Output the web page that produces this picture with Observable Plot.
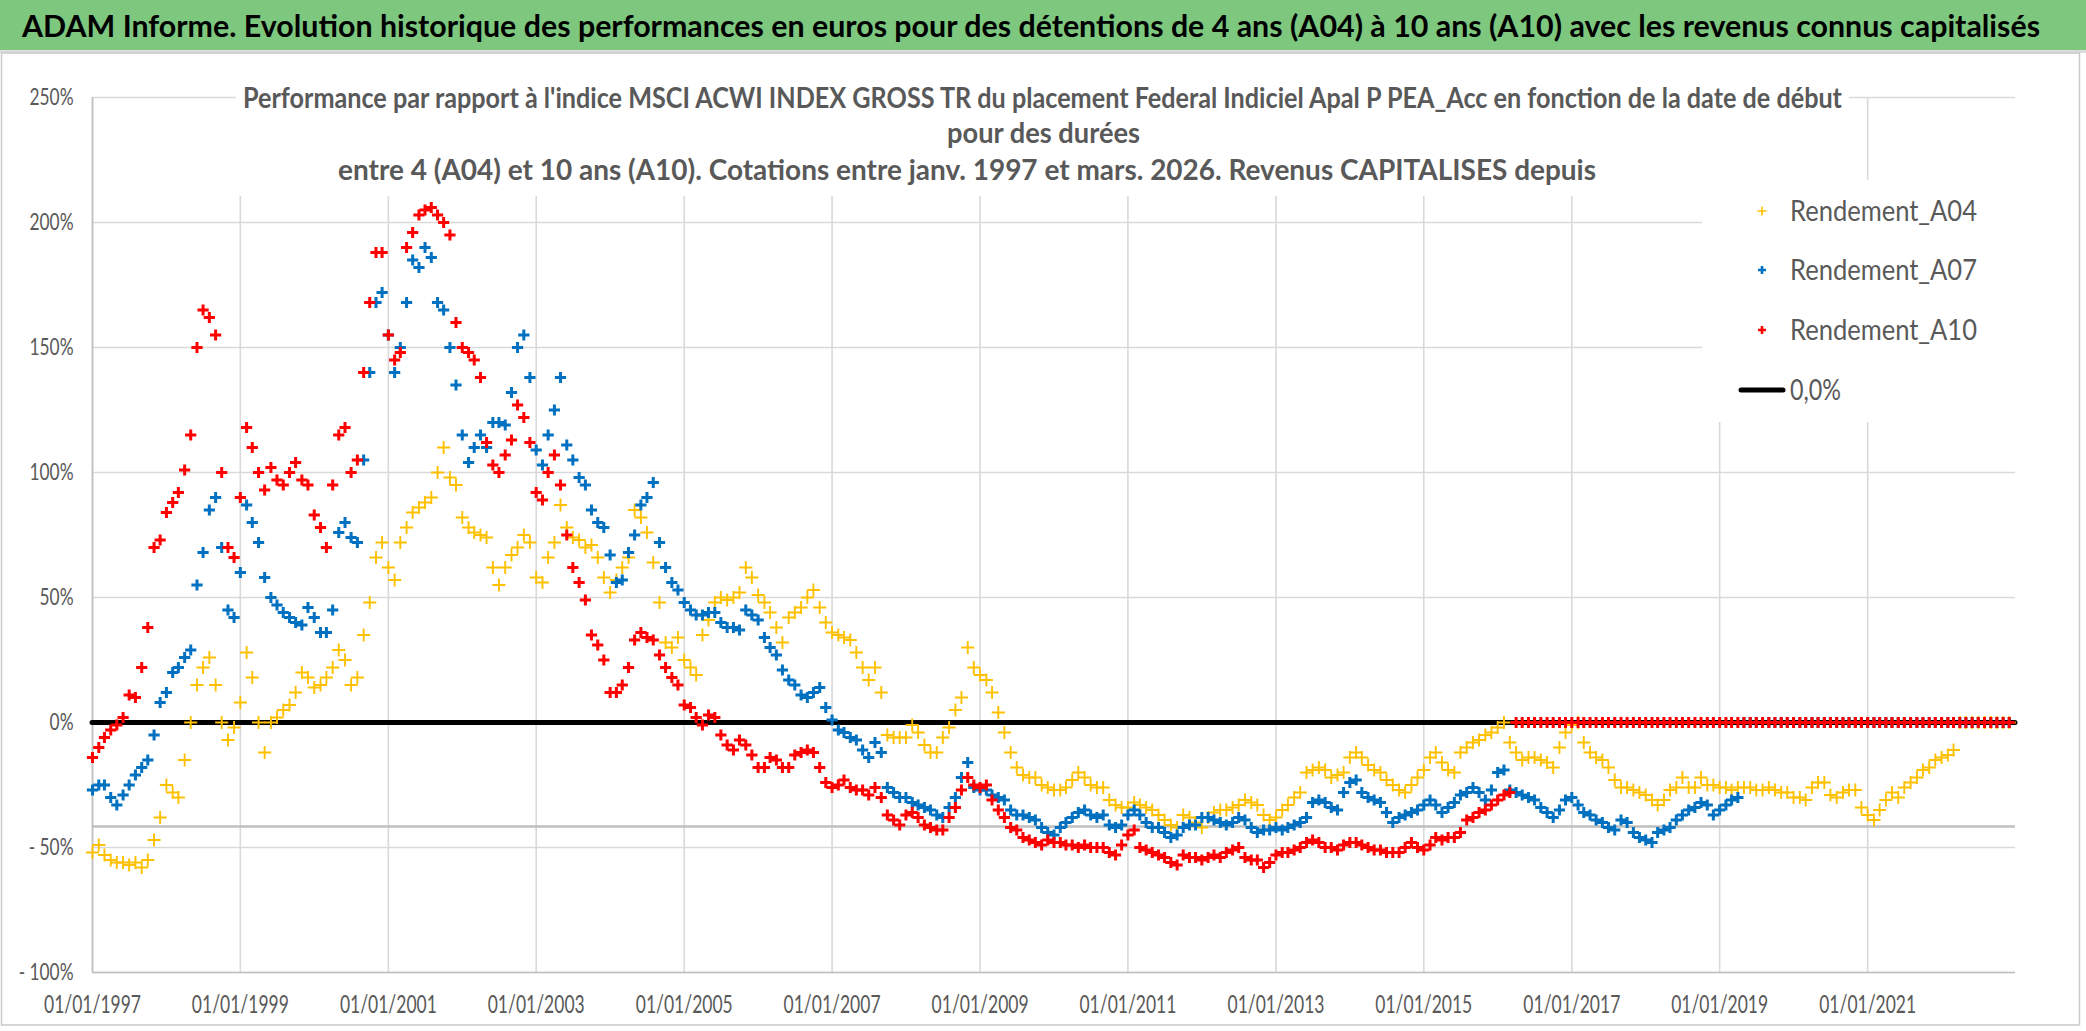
<!DOCTYPE html>
<html>
<head>
<meta charset="utf-8">
<script src="https://cdn.jsdelivr.net/npm/d3@7"></script>
<script src="https://cdn.jsdelivr.net/npm/@observablehq/plot@0.6"></script>
<style>
  html, body { margin: 0; padding: 0; background: #fff; }
  body { width: 2086px; height: 1031px; position: relative; overflow: hidden; font-family: Lato, "Open Sans", sans-serif; }
  #chart { position: absolute; left: 0; top: 52px; }
  #overlay { position: absolute; left: 0; top: 0; pointer-events: none; }
</style>
</head>
<body>
<div id="chart"></div>
<svg id="overlay" width="2086" height="1031"></svg>
<script>
// ---------- DATA (monthly readings, first day of each month, Jan 1997 -> Dec 2022) ----------
const firstYear = 1997;
const axisEndYear = 2023;
const xTickYears = [1997, 1999, 2001, 2003, 2005, 2007, 2009, 2011, 2013, 2015, 2017, 2019, 2021];
const yTicks = [-100, -50, 0, 50, 100, 150, 200, 250];
const refLevel = [-41.6];
const zeroLevel = [0];

const seriesNames = ["Rendement_A04", "Rendement_A07", "Rendement_A10"];
const seriesColors = ["#FFC000", "#0070C0", "#FF0000"];

const a04 = [
  -52,-49,-53,-55,-56,-56,-57,-56,-58,-55,-47,-38,   // 1997
  -25,-28,-30,-15,0,15,22,26,15,0,-7,-2,            // 1998
  8,28,18,0,-12,0,2,5,7,12,20,18,                   // 1999
  14,15,18,22,29,25,15,18,35,48,66,72,              // 2000
  62,57,72,78,84,86,88,90,100,110,98,95,            // 2001
  82,78,76,75,74,62,55,62,67,70,75,72,              // 2002
  58,56,66,72,87,78,74,73,70,71,66,58,              // 2003
  52,57,62,66,85,82,76,64,48,32,30,34,              // 2004
  25,22,19,35,41,48,50,49,50,52,62,58,              // 2005
  51,48,44,38,32,42,44,46,50,53,46,40,              // 2006
  36,35,34,33,28,22,17,22,12,-5,-6,-6,              // 2007
  -6,-1,-4,-9,-12,-12,-6,-2,5,10,30,22,             // 2008
  19,17,12,4,-4,-12,-18,-21,-22,-22,-25,-26,        // 2009
  -27,-27,-26,-23,-20,-22,-25,-26,-26,-31,-33,-34,  // 2010
  -34,-32,-33,-34,-35,-37,-39,-41,-42,-37,-38,-40,  // 2011
  -42,-38,-36,-35,-35,-34,-33,-31,-32,-33,-37,-39,  // 2012
  -38,-35,-33,-30,-28,-20,-19,-18,-19,-22,-21,-20,  // 2013
  -14,-12,-14,-17,-19,-20,-23,-25,-27,-28,-25,-22,  // 2014
  -19,-14,-12,-16,-19,-20,-12,-10,-8,-7,-5,-4,      // 2015
  -2,0,-8,-12,-15,-14,-14,-15,-16,-18,-10,-4,       // 2016
  -1,0,-8,-12,-14,-15,-18,-23,-26,-26,-27,-28,      // 2017
  -29,-31,-33,-31,-27,-26,-22,-26,-26,-22,-25,-25,  // 2018
  -26,-26,-27,-26,-26,-26,-27,-27,-26,-27,-28,-28,  // 2019
  -30,-30,-31,-26,-24,-24,-29,-30,-28,-27,-27,-34,  // 2020
  -37,-39,-35,-31,-28,-30,-26,-24,-22,-19,-18,-15,  // 2021
  -14,-13,-11,0,0,0,0,0,0,0,0,0                     // 2022
];

const a07 = [
  -27,-25,-25,-30,-33,-29,-25,-21,-18,-15,-5,8,     // 1997
  12,20,22,26,29,55,68,85,90,70,45,42,              // 1998
  60,87,80,72,58,50,47,44,42,40,39,46,              // 1999
  42,36,36,45,76,80,74,72,105,140,168,172,          // 2000
  155,140,150,168,185,182,190,186,168,165,150,135,  // 2001
  115,104,110,115,110,120,120,119,132,150,155,138,  // 2002
  109,103,115,125,138,111,105,98,95,85,80,78,       // 2003
  67,56,57,68,75,87,90,96,72,62,56,53,              // 2004
  48,45,43,43,44,44,40,38,38,37,45,43,              // 2005
  41,34,30,27,21,17,15,11,10,12,14,6,               // 2006
  1,-3,-4,-6,-7,-11,-14,-8,-12,-26,-28,-30,         // 2007
  -30,-32,-33,-34,-35,-37,-38,-34,-30,-22,-16,-26,  // 2008
  -27,-27,-29,-30,-31,-35,-37,-37,-38,-39,-42,-44,  // 2009
  -45,-42,-40,-38,-36,-35,-37,-38,-37,-41,-42,-41,  // 2010
  -37,-35,-37,-40,-42,-42,-44,-46,-45,-42,-41,-41,  // 2011
  -38,-38,-39,-40,-41,-40,-38,-39,-42,-44,-43,-43,  // 2012
  -42,-43,-42,-41,-40,-38,-32,-31,-32,-34,-35,-28,  // 2013
  -24,-23,-28,-30,-31,-32,-36,-40,-38,-37,-36,-35,  // 2014
  -33,-31,-33,-36,-34,-32,-29,-28,-26,-28,-31,-27,  // 2015
  -20,-19,-27,-28,-29,-30,-31,-34,-36,-38,-35,-31,  // 2016
  -30,-33,-36,-37,-39,-40,-42,-43,-39,-40,-44,-46,  // 2017
  -47,-48,-44,-43,-42,-39,-37,-35,-34,-32,-33,-37,  // 2018
  -35,-33,-31,-30,0,0,0,0,0,0,0,0,                  // 2019
  0,0,0,0,0,0,0,0,0,0,0,0,                          // 2020
  0,0,0,0,0,0,0,0,0,0,0,0,                          // 2021
  0,0,0,0,0,0,0,0,0,0,0,0                           // 2022
];

const a10 = [
  -14,-10,-6,-3,-1,2,11,10,22,38,70,73,             // 1997
  84,88,92,101,115,150,165,162,155,100,70,66,       // 1998
  90,118,110,100,93,102,97,95,100,104,97,95,        // 1999
  83,78,70,95,115,118,100,105,140,168,188,188,      // 2000
  155,145,148,190,196,203,205,206,203,200,195,160,  // 2001
  150,148,145,138,112,103,100,107,113,127,122,112,  // 2002
  92,89,100,107,95,75,62,56,49,35,31,25,            // 2003
  12,12,15,22,33,36,34,33,27,22,18,15,              // 2004
  7,6,2,-1,3,2,-5,-9,-11,-7,-9,-13,                 // 2005
  -18,-18,-14,-15,-18,-18,-13,-12,-11,-12,-18,-24,  // 2006
  -26,-25,-23,-26,-27,-27,-29,-26,-30,-37,-39,-41,  // 2007
  -37,-36,-38,-41,-42,-43,-43,-38,-34,-27,-22,-25,  // 2008
  -26,-25,-31,-35,-38,-42,-43,-46,-47,-48,-49,-47,  // 2009
  -48,-48,-49,-49,-50,-49,-50,-50,-50,-52,-53,-49,  // 2010
  -45,-43,-50,-51,-52,-53,-54,-56,-57,-53,-54,-54,  // 2011
  -55,-54,-53,-54,-52,-51,-50,-54,-55,-55,-58,-56,  // 2012
  -53,-52,-52,-51,-50,-48,-47,-48,-50,-50,-51,-49,  // 2013
  -48,-48,-49,-50,-51,-51,-52,-52,-52,-50,-48,-50,  // 2014
  -51,-49,-46,-47,-46,-46,-44,-39,-38,-36,-35,-33,  // 2015
  -31,-29,-28,0,0,0,0,0,0,0,0,0,                    // 2016
  0,0,0,0,0,0,0,0,0,0,0,0,                          // 2017
  0,0,0,0,0,0,0,0,0,0,0,0,                          // 2018
  0,0,0,0,0,0,0,0,0,0,0,0,                          // 2019
  0,0,0,0,0,0,0,0,0,0,0,0,                          // 2020
  0,0,0,0,0,0,0,0,0,0,0,0,                          // 2021
  0,0,0,0,0,0,0,0,0,0,0,0                           // 2022
];

const bannerTitle = "ADAM Informe. Evolution historique des performances en euros pour des détentions de 4 ans (A04) à 10 ans (A10) avec les revenus connus capitalisés";
const chartTitleLines = [
  "Performance par rapport à l'indice MSCI ACWI INDEX GROSS TR  du placement Federal Indiciel Apal P PEA_Acc en fonction de la date de début",
  "pour des durées",
  "entre 4 (A04) et 10 ans (A10). Cotations entre janv. 1997 et mars. 2026. Revenus CAPITALISES depuis"
];
const zeroLegend = "0,0%";

// ---------- BUILD ----------
const monthDate = i => new Date(Date.UTC(firstYear, i, 1));
const toRows = (vals, name) => vals.map((v, i) => ({ date: monthDate(i), value: v, series: name }));
const rows = [toRows(a04, seriesNames[0]), toRows(a07, seriesNames[1]), toRows(a10, seriesNames[2])];
const xTicks = xTickYears.map(y => new Date(Date.UTC(y, 0, 1)));
const pad = n => String(n).padStart(2, "0");
const fmtDate = d => `${pad(d.getUTCDate())}/${pad(d.getUTCMonth() + 1)}/${d.getUTCFullYear()}`;
const fmtPct = v => v < 0 ? `- ${-v}%` : `${v}%`;

const grid = "#d9d9d9";
const axisGray = "#bfbfbf";
const textGray = "#595959";

const plot = Plot.plot({
  width: 2086,
  height: 979,
  marginLeft: 92,
  marginRight: 71,
  marginTop: 45,
  marginBottom: 59,
  style: { fontFamily: "Lato, 'Open Sans', sans-serif", background: "transparent", color: textGray },
  x: { type: "utc", domain: [new Date(Date.UTC(firstYear, 0, 1)), new Date(Date.UTC(axisEndYear, 0, 1))], label: null },
  y: { domain: [-100, 250], label: null },
  marks: [
    Plot.gridX({ ticks: xTicks, stroke: grid, strokeOpacity: 1, strokeWidth: 1.6 }),
    Plot.gridY({ ticks: yTicks, stroke: grid, strokeOpacity: 1, strokeWidth: 1.6 }),
    Plot.ruleY([-100], { stroke: axisGray, strokeWidth: 1.6 }),
    Plot.ruleX([new Date(Date.UTC(firstYear, 0, 1))], { stroke: axisGray, strokeWidth: 1.6 }),
    Plot.ruleY(refLevel, { stroke: axisGray, strokeWidth: 2.4 }),
    Plot.ruleY(zeroLevel, { stroke: "#000", strokeWidth: 5, strokeLinecap: "round" }),
    Plot.axisX({ ticks: xTicks, tickFormat: fmtDate, tickSize: 0, tickPadding: 23, fontSize: 25, fill: textGray, label: null }),
    Plot.axisY({ ticks: yTicks, tickFormat: fmtPct, tickSize: 0, tickPadding: 19, fontSize: 24, fill: textGray, label: null }),
    Plot.dot(rows[0], { x: "date", y: "value", symbol: "plus", r: 4.3, stroke: seriesColors[0], strokeWidth: 1.9 }),
    Plot.dot(rows[1], { x: "date", y: "value", symbol: "plus", r: 3.7, stroke: seriesColors[1], strokeWidth: 3 }),
    Plot.dot(rows[2], { x: "date", y: "value", symbol: "plus", r: 3.7, stroke: seriesColors[2], strokeWidth: 3 })
  ]
});
document.getElementById("chart").appendChild(plot);

// condense tick labels horizontally (reference font is a narrow face)
function squeeze(selector, refText, targetWidth) {
  const texts = Array.from(plot.querySelectorAll(selector));
  if (!texts.length) return;
  const ref = texts.find(t => t.textContent === refText) || texts[texts.length - 1];
  const w = ref.getComputedTextLength();
  if (!w) return;
  const s = targetWidth / w;
  texts.forEach(t => {
    let tr = t.getAttribute("transform");
    if (!tr) {
      const x = t.getAttribute("x") || 0, y = t.getAttribute("y") || 0;
      t.removeAttribute("x"); t.removeAttribute("y");
      tr = `translate(${x},${y})`;
    }
    t.setAttribute("transform", `${tr} scale(${s},1)`);
  });
}
squeeze('g[aria-label="x-axis tick label"] text', "01/01/1997", 97);
squeeze('g[aria-label="y-axis tick label"] text', "250%", 44);

// ---------- OVERLAY: banner, chart title box, legend ----------
const NS = "http://www.w3.org/2000/svg";
const ov = document.getElementById("overlay");
function el(tag, attrs, parent = ov) {
  const e = document.createElementNS(NS, tag);
  for (const k in attrs) e.setAttribute(k, attrs[k]);
  parent.appendChild(e);
  return e;
}
function txt(str, attrs) { const t = el("text", attrs); t.textContent = str; return t; }

// banner
el("rect", { x: 0, y: 0, width: 2086, height: 50, fill: "#7DC77F" });
el("rect", { x: 0, y: 50, width: 2086, height: 3, fill: "#dcdcdc" });
txt(bannerTitle, { x: 22, y: 37, "font-size": 30, "font-weight": 700, fill: "#000",
  textLength: 2018, lengthAdjust: "spacingAndGlyphs", "font-family": "Lato, 'Open Sans', sans-serif" });

// chart outer border
el("rect", { x: 1.5, y: 53, width: 2078, height: 972, fill: "none", stroke: "#c9c9c9", "stroke-width": 1.5 });

// chart title box (white, covers gridlines)
el("rect", { x: 236, y: 56, width: 1613, height: 140, fill: "#fff" });
const titleSpecs = [
  { x: 243, y: 108, w: 1599 },
  { x: 947, y: 143, w: 193 },
  { x: 338, y: 180, w: 1258 }
];
chartTitleLines.forEach((s, i) => {
  const sp = titleSpecs[i];
  txt(s, { x: sp.x, y: sp.y, "font-size": 29, "font-weight": 700, fill: textGray,
    textLength: sp.w, lengthAdjust: "spacingAndGlyphs", "font-family": "Lato, 'Open Sans', sans-serif", "xml:space": "preserve" });
});

// legend box
el("rect", { x: 1702, y: 180, width: 313, height: 242, fill: "#fff" });
const legendRows = [211, 270, 330];
const legendSizes = [{ a: 4.5, w: 1.6 }, { a: 4, w: 2.6 }, { a: 4, w: 2.6 }];
seriesNames.forEach((name, i) => {
  const cy = legendRows[i], cx = 1762, a = legendSizes[i].a;
  el("path", { d: `M${cx - a},${cy}H${cx + a}M${cx},${cy - a}V${cy + a}`, stroke: seriesColors[i], "stroke-width": legendSizes[i].w, fill: "none" });
  txt(name, { x: 1790, y: cy + 10, "font-size": 29, fill: textGray, textLength: 187, lengthAdjust: "spacingAndGlyphs",
    "font-family": "Lato, 'Open Sans', sans-serif" });
});
el("line", { x1: 1741, x2: 1783, y1: 390, y2: 390, stroke: "#000", "stroke-width": 5, "stroke-linecap": "round" });
txt(zeroLegend, { x: 1790, y: 400, "font-size": 29, fill: textGray, textLength: 51, lengthAdjust: "spacingAndGlyphs",
  "font-family": "Lato, 'Open Sans', sans-serif" });
</script>
</body>
</html>
